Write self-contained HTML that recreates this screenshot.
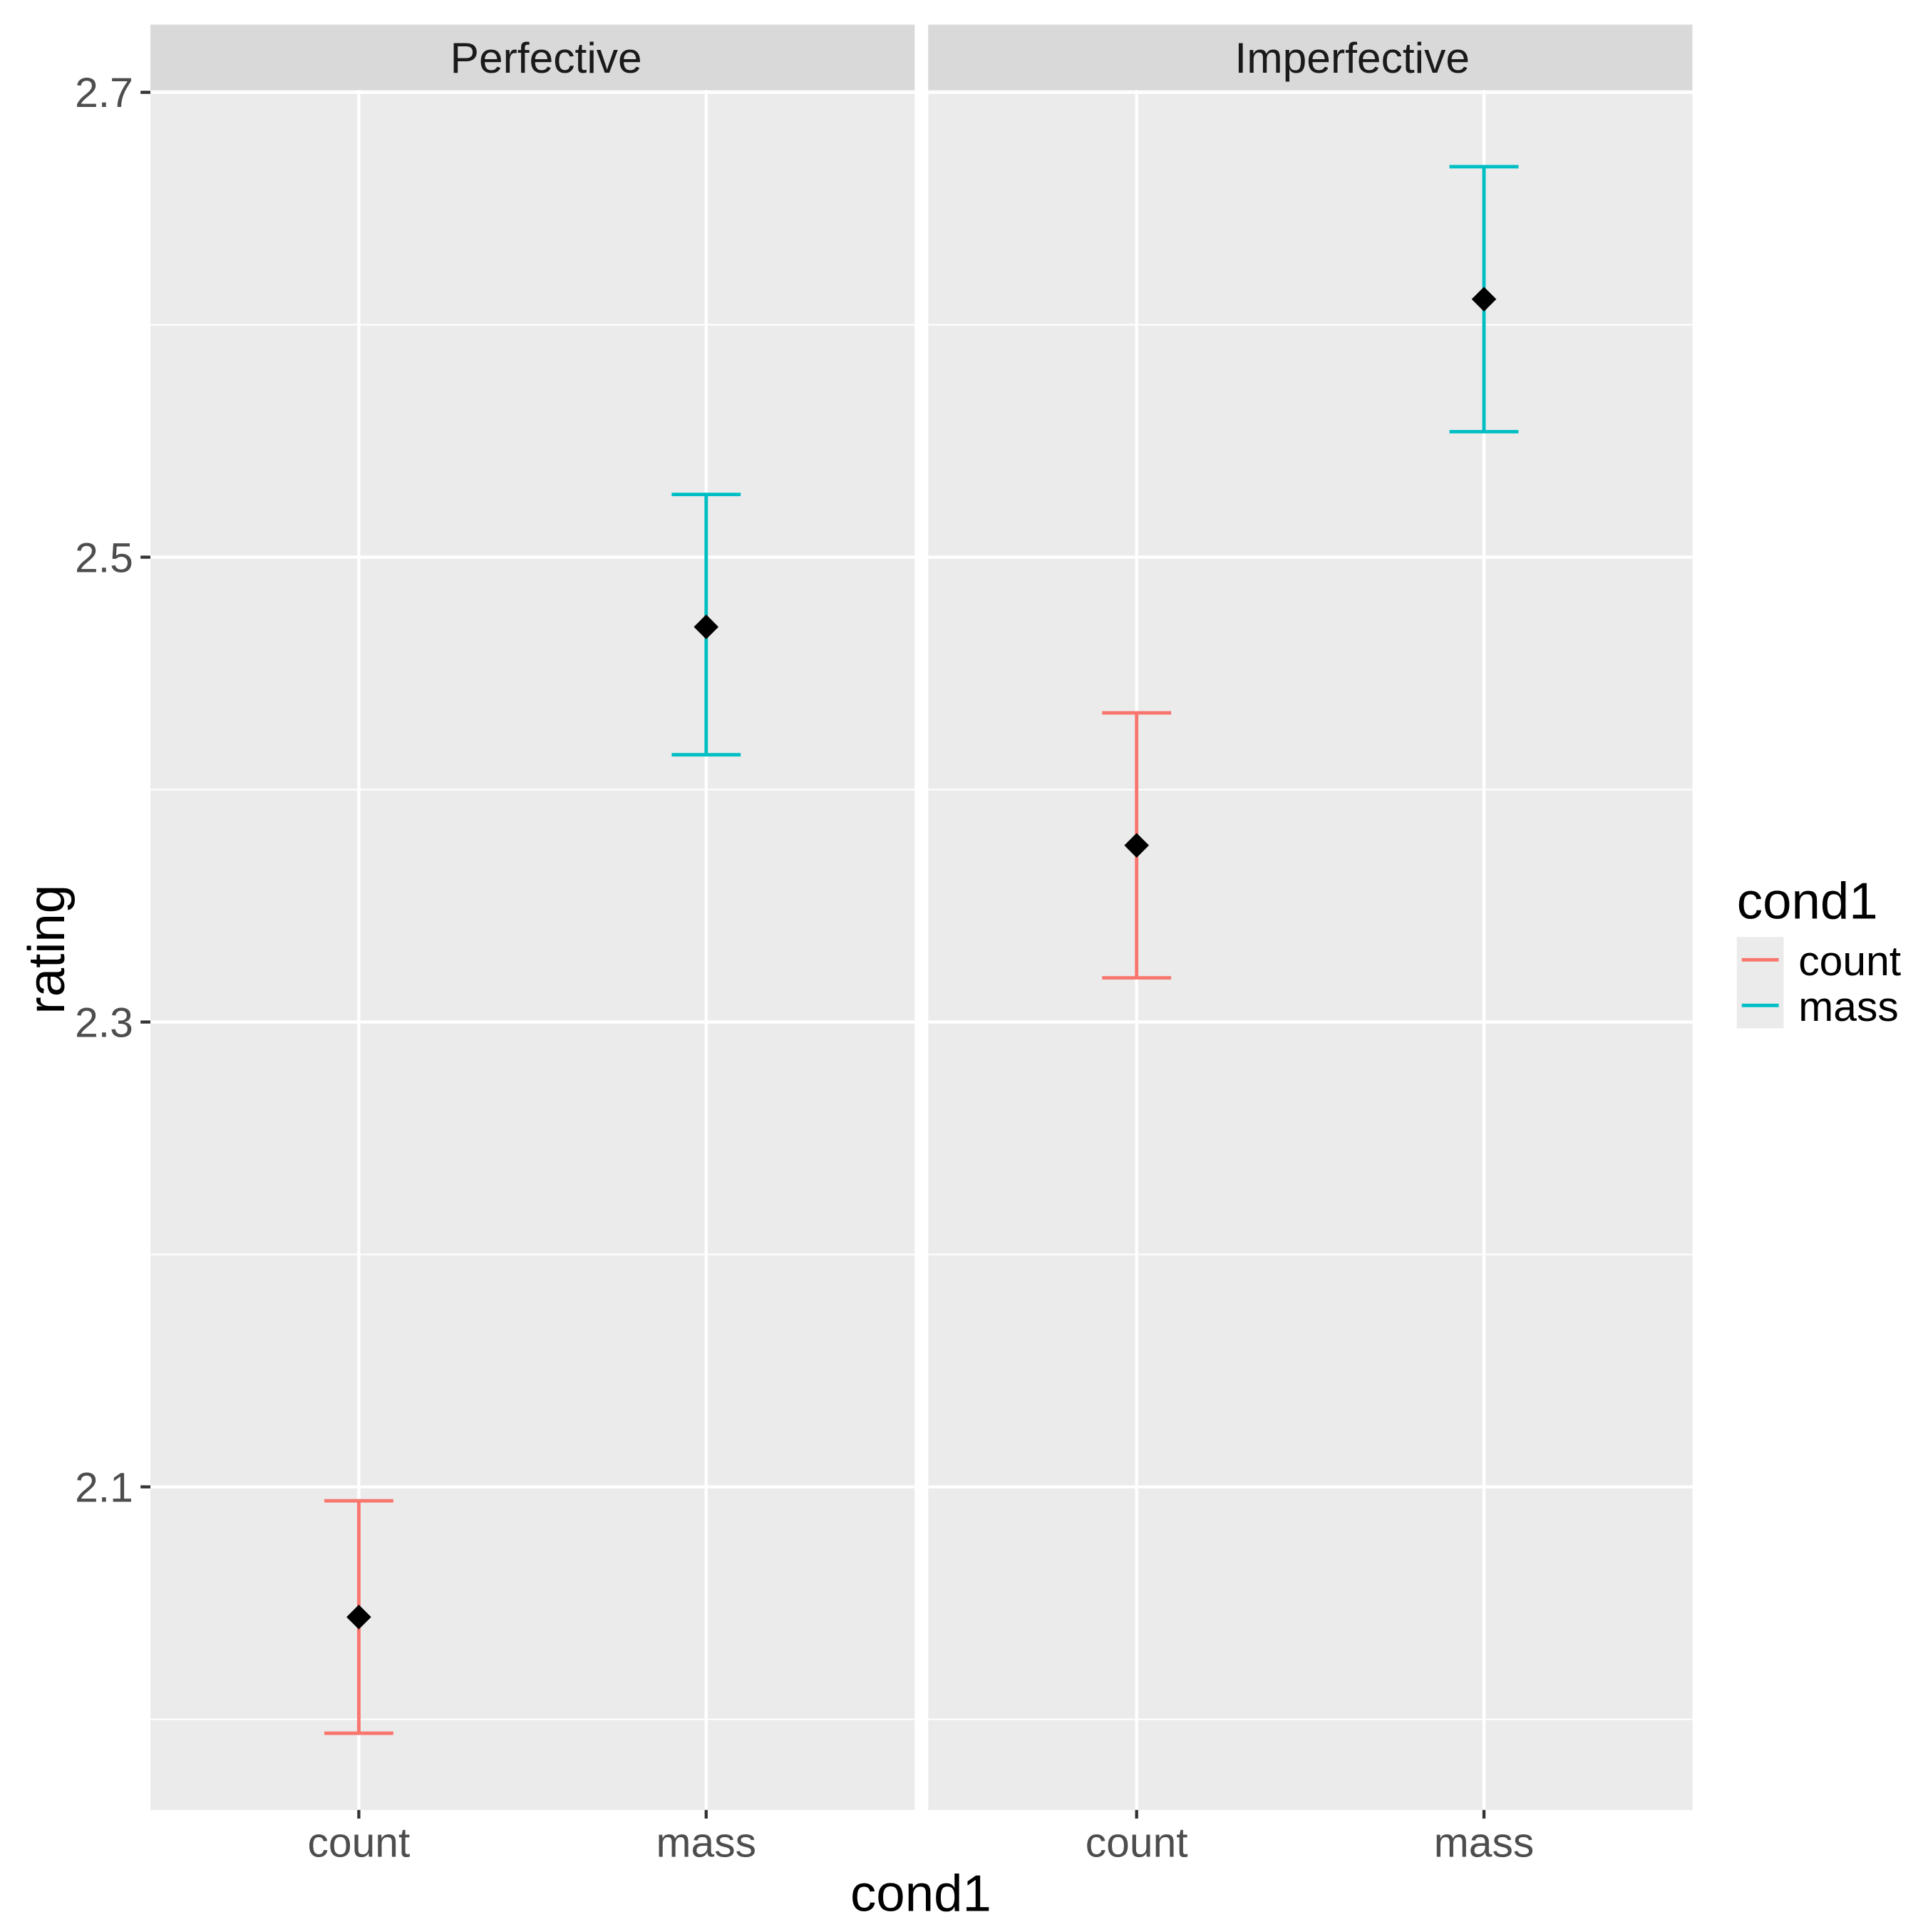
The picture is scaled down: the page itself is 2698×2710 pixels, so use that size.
<!DOCTYPE html>
<html><head><meta charset="utf-8"><style>html,body{margin:0;padding:0;background:#fff}svg{display:block}text{font-family:"Liberation Sans",sans-serif}</style></head>
<body>
<svg id="chart" width="2698" height="2710" viewBox="0 0 1560 1567" xmlns="http://www.w3.org/2000/svg">
<g id="root"></g>
</svg>
<script>
const panels = ["Perfective", "Imperfective"];
const categories = ["count", "mass"];
const means = [[2.044, 2.470], [2.376, 2.611]];
const upper = [[2.094, 2.527], [2.433, 2.668]];
const lower = [[1.994, 2.415], [2.319, 2.554]];
const majorTicks = [2.1, 2.3, 2.5, 2.7];
const tickLabels = ["2.1", "2.3", "2.5", "2.7"];
const minorTicks = [2.0, 2.2, 2.4, 2.6];
const colors = {count: "#F8766D", mass: "#00BFC4"};

const NS = "http://www.w3.org/2000/svg";
const rootG = document.getElementById("root");
const panelX = [122, 753], panelW = 620, plotTop = 73, plotBottom = 1468;
const stripOffset = [11, 34];
const yMin = 1.961, yMax = 2.701;
function yScale(v){ return plotBottom - (v - yMin) / (yMax - yMin) * (plotBottom - plotTop); }
function xScale(p, i){ return panelX[p] + panelW * (0.2727 + i * 0.4545); }
function el(tag, attrs, parent){ const e = document.createElementNS(NS, tag); for (const k in attrs) e.setAttribute(k, attrs[k]); (parent||rootG).appendChild(e); return e; }

panels.forEach((name, p) => {
  const g = el("g", {});
  
  
  const bg = el("rect", {x: panelX[p], y: plotTop, width: panelW, height: plotBottom - plotTop, fill: "#EBEBEB"}, g);
  
  
  minorTicks.forEach(v => { const l = el("line", {x1: panelX[p], x2: panelX[p]+panelW, y1: yScale(v), y2: yScale(v), stroke: "#fff", "stroke-width": 1.2}, g);
    
     });
  majorTicks.forEach(v => { const l = el("line", {x1: panelX[p], x2: panelX[p]+panelW, y1: yScale(v), y2: yScale(v), stroke: "#fff", "stroke-width": 2.5}, g);
    
     });
  categories.forEach((c, i) => { const l = el("line", {x1: xScale(p,i), x2: xScale(p,i), y1: plotTop, y2: plotBottom, stroke: "#fff", "stroke-width": 2.5}, g);
    
     });
  const strip = el("rect", {x: panelX[p], y: 20, width: panelW, height: 53, fill: "#D9D9D9"}, g);
  
  
  const st = el("text", {x: panelX[p] + panelW/2 + stripOffset[p], y: 59, "text-anchor": "middle", "font-size": 35, fill: "#1A1A1A"}, g);
  st.textContent = name;
  
  
  categories.forEach((c, i) => {
    const cx = xScale(p, i), col = colors[c];
    const eb = el("g", {stroke: col, "stroke-width": 2.8, fill: "none"}, g);
    
    
    el("line", {x1: cx, x2: cx, y1: yScale(upper[p][i]), y2: yScale(lower[p][i])}, eb);
    el("line", {x1: cx-28, x2: cx+28, y1: yScale(upper[p][i]), y2: yScale(upper[p][i])}, eb);
    el("line", {x1: cx-28, x2: cx+28, y1: yScale(lower[p][i]), y2: yScale(lower[p][i])}, eb);
    const m = yScale(means[p][i]);
    const d = el("polygon", {points: `${cx},${m-10} ${cx+10},${m} ${cx},${m+10} ${cx-10},${m}`, fill: "#000"}, g);
    
    
    const tl = el("text", {x: cx, y: 1506, "text-anchor": "middle", "font-size": 34, fill: "#4D4D4D"});
    tl.textContent = c;
    
    
    const tk = el("line", {x1: cx, x2: cx, y1: plotBottom, y2: plotBottom+7, stroke: "#333", "stroke-width": 2.5});
    
    
  });
});
majorTicks.forEach((v, i) => {
  const t = el("text", {x: 108, y: yScale(v) + 12, "text-anchor": "end", "font-size": 34, fill: "#4D4D4D"});
  t.textContent = tickLabels[i];
  
  
  const tk = el("line", {x1: 114, x2: 122, y1: yScale(v), y2: yScale(v), stroke: "#333", "stroke-width": 2.5});
  
  
});
const xt = el("text", {x: 747, y: 1550, "text-anchor": "middle", "font-size": 42, fill: "#000"});
xt.textContent = "cond1";


const yt = el("text", {x: 0, y: 0, "text-anchor": "middle", "font-size": 42, fill: "#000", transform: "translate(52,770) rotate(-90)"});
yt.textContent = "rating";


const lg = el("g", {});


const ltt = el("text", {x: 1409, y: 745, "font-size": 42, fill: "#000"}, lg);
ltt.textContent = "cond1";


categories.forEach((c, i) => {
  const ky = 760 + i * 37;
  const kb = el("rect", {x: 1409, y: ky, width: 38, height: 37, fill: "#EBEBEB"}, lg);
  
  
  const kl = el("line", {x1: 1413, x2: 1443, y1: ky + 18.5, y2: ky + 18.5, stroke: colors[c], "stroke-width": 2.8}, lg);
  
  
  const lt = el("text", {x: 1459, y: ky + 31, "font-size": 34, fill: "#000"}, lg);
  lt.textContent = c;
  
  
});
</script>
</body></html>
